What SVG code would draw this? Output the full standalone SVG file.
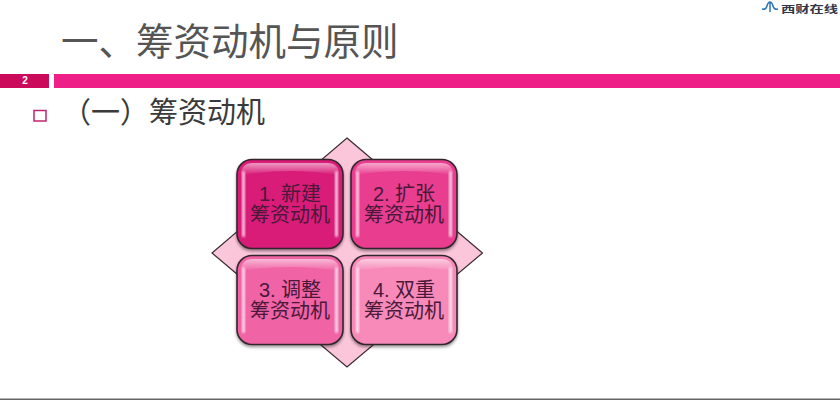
<svg xmlns="http://www.w3.org/2000/svg" width="840" height="400" viewBox="0 0 840 400">
<defs>
<style>
.cjk{font-family:"Liberation Sans","Noto Sans CJK SC",sans-serif}
.h{fill:#555;font-size:37.500px}
.s{fill:#3a3a3a;font-size:29px}
.card{stroke:#33262c;stroke-width:1.600;filter:url(#sh)}
.lbl{fill:#4a1838;font-size:20px;text-anchor:middle}
.gl{fill:#fff;opacity:.75}
.top{fill:url(#topg)}
</style>
<filter id="sh" x="-10%" y="-10%" width="120%" height="125%"><feDropShadow dx="0" dy="2" stdDeviation="1.5" flood-color="#000" flood-opacity=".4"/></filter>
<filter id="soft" x="-30%" y="-30%" width="160%" height="160%"><feGaussianBlur stdDeviation="0.8"/></filter>
<linearGradient id="topg" x1="0" y1="0" x2="0" y2="1"><stop offset="0" stop-color="#fff" stop-opacity=".55"/><stop offset="1" stop-color="#fff" stop-opacity="0"/></linearGradient>
</defs>
<rect width="840" height="400" fill="#fff"/>
<rect y="398.500" width="840" height="1.500" fill="#666"/>
<g id="logo">
<path d="M762 9Q766 10 767 6Q768 2 770 2Q772 2 773 6Q774 10 778 9M770 2V12" fill="none" stroke="#2f78b8" stroke-width="1.500"/>
<text class="cjk" transform="translate(781 13) scale(1 .68)" font-size="14.300" font-weight="700" fill="#30384a">西财在线</text>
</g>
<text id="title" class="cjk h" x="61" y="55">一、筹资动机与原则</text>
<g id="band">
<rect x="0" y="74" width="49" height="14" fill="#cc0a5c"/>
<rect x="54" y="74" width="786" height="14" fill="#ee1f86"/>
<text class="cjk" x="25" y="84" font-size="10" font-weight="700" fill="#fff" text-anchor="middle">2</text>
</g>
<rect id="bullet" x="34" y="110.500" width="12" height="10.500" fill="#fff" stroke="#c0246f" stroke-width="1.500"/>
<text id="subtitle" class="cjk s" x="62" y="123">（一）筹资动机</text>
<path id="diamond" d="M347 138L482.500 253L347 367L212 253Z" fill="#fbc5da" stroke="#3a2a30" stroke-width="1.200"/>
<g id="node1">
<rect class="card" x="237" y="159.500" width="106" height="89" rx="15" fill="#d91a78"/>
<path class="top" d="M241 175Q241 163 253 163H327Q339 163 339 175Q290 167 241 175Z"/>
<rect class="gl" x="242" y="171" width="3" height="66" rx="1.500" filter="url(#soft)"/>
<rect class="gl" x="335" y="171" width="3" height="66" rx="1.500" filter="url(#soft)"/>
<text class="cjk lbl" x="290" y="201">1. 新建</text>
<text class="cjk lbl" x="290" y="222">筹资动机</text>
</g>
<g id="node2">
<rect class="card" x="351" y="159.500" width="106" height="89" rx="15" fill="#e93d8f"/>
<path class="top" d="M355 175Q355 163 367 163H441Q453 163 453 175Q404 167 355 175Z"/>
<rect class="gl" x="356" y="171" width="3" height="66" rx="1.500" filter="url(#soft)"/>
<rect class="gl" x="449" y="171" width="3" height="66" rx="1.500" filter="url(#soft)"/>
<text class="cjk lbl" x="404" y="201">2. 扩张</text>
<text class="cjk lbl" x="404" y="222">筹资动机</text>
</g>
<g id="node3">
<rect class="card" x="237" y="255.500" width="106" height="89" rx="15" fill="#f064a5"/>
<path class="top" d="M241 271Q241 259 253 259H327Q339 259 339 271Q290 263 241 271Z"/>
<rect class="gl" x="242" y="267" width="3" height="66" rx="1.500" filter="url(#soft)"/>
<rect class="gl" x="335" y="267" width="3" height="66" rx="1.500" filter="url(#soft)"/>
<text class="cjk lbl" x="290" y="297">3. 调整</text>
<text class="cjk lbl" x="290" y="318">筹资动机</text>
</g>
<g id="node4">
<rect class="card" x="351" y="255.500" width="106" height="89" rx="15" fill="#f78ab9"/>
<path class="top" d="M355 271Q355 259 367 259H441Q453 259 453 271Q404 263 355 271Z"/>
<rect class="gl" x="356" y="267" width="3" height="66" rx="1.500" filter="url(#soft)"/>
<rect class="gl" x="449" y="267" width="3" height="66" rx="1.500" filter="url(#soft)"/>
<text class="cjk lbl" x="404" y="297">4. 双重</text>
<text class="cjk lbl" x="404" y="318">筹资动机</text>
</g>
<g id="connectors"/>
</svg>
